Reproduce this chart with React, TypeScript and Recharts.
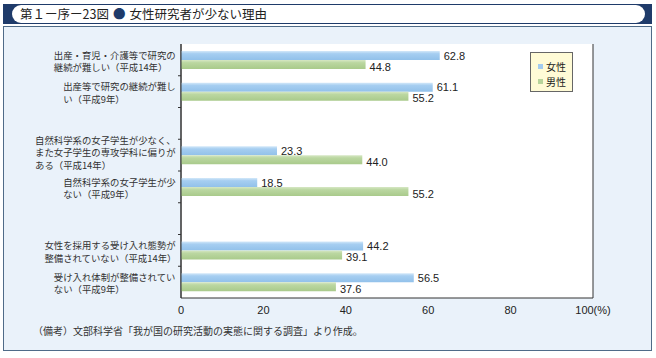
import React from "react";
import { BarChart, Bar, XAxis, YAxis, CartesianGrid, LabelList, Legend } from "recharts";

const categoryLabels: string[] = [
  "出産・育児・介護等で研究の\n継続が難しい（平成14年）",
  "出産等で研究の継続が難し\nい（平成9年）",
  "",
  "自然科学系の女子学生が少なく、\nまた女子学生の専攻学科に偏りが\nある（平成14年）",
  "自然科学系の女子学生が少\nない（平成9年）",
  "",
  "女性を採用する受け入れ態勢が\n整備されていない（平成14年）",
  "受け入れ体制が整備されてい\nない（平成9年）",
];
const femaleValues: (number | null)[] = [62.8, 61.1, null, 23.3, 18.5, null, 44.2, 56.5];
const maleValues: (number | null)[] = [44.8, 55.2, null, 44.0, 55.2, null, 39.1, 37.6];
const seriesNames = ["女性", "男性"];
const xTicks = [0, 20, 40, 60, 80, 100];
const gridTicks = [20, 40, 60, 80];
const titleText = "第１ー序ー23図";
const titleSub = "女性研究者が少ない理由";
const noteText = "（備考）文部科学省「我が国の研究活動の実態に関する調査」より作成。";

const data = categoryLabels.map((label, i) => ({
  key: `c${i}`,
  label,
  female: femaleValues[i],
  male: maleValues[i],
}));

const W = 656;
const H = 358;
const MARGIN = { top: 44, right: 63, bottom: 40, left: 6 };
const XAXIS_H = 20;
const PLOT_H = H - MARGIN.top - MARGIN.bottom - XAXIS_H;
const HALF_BAND = PLOT_H / categoryLabels.length / 2;

const JP = "'Noto Sans CJK JP', 'Noto Sans', sans-serif";
const NUM = "'Liberation Sans', Arial, sans-serif";

const BLUE = "#a2cbef";
const GREEN = "#b7d49b";

const YTick = (props: any) => {
  const { x, y, index } = props;
  const text = categoryLabels[index] || "";
  const lines = text ? text.split("\n") : [];
  const fs = 9.4;
  const lh = 12.5;
  const startX = x - (lines[0] ? lines[0].length : 0) * fs;
  const y0 = y - ((lines.length - 1) * lh) / 2 + 1 - (lines.length > 2 ? 4 : 0);
  return (
    <g>
      {index < categoryLabels.length - 1 && (
        <line x1={x + 2} x2={x + 5} y1={y + HALF_BAND} y2={y + HALF_BAND} stroke="#333" strokeWidth={1} />
      )}
      <text fontSize={fs} fontFamily={JP} fill="#333">
        {lines.map((l, i) => (
          <tspan key={i} x={startX} y={y0 + i * lh} dominantBaseline="central">
            {l}
          </tspan>
        ))}
      </text>
    </g>
  );
};

const makeLabel = (dy: number) => (p: any) => {
  const { x, y, width, height, value } = p;
  if (value === null || value === undefined) return null;
  return (
    <text
      x={x + width + 4}
      y={y + height / 2 + dy}
      fontSize={11}
      fontFamily={NUM}
      fill="#222"
      dominantBaseline="central"
    >
      {Number(value).toFixed(1)}
    </text>
  );
};

const LegendBox = () => (
  <div
    style={{
      width: 43,
      height: 40,
      boxSizing: "border-box",
      background: "#fffbd6",
      border: "1px solid #666",
      fontFamily: JP,
      fontSize: 10,
      color: "#222",
      paddingTop: 6,
      paddingLeft: 7,
    }}
  >
    {seriesNames.map((n, i) => (
      <div key={n} style={{ display: "flex", alignItems: "center", height: 15 }}>
        <span style={{ display: "inline-block", width: 5, height: 5, background: i === 0 ? BLUE : GREEN, marginRight: 3 }} />
        <span>{n}</span>
      </div>
    ))}
  </div>
);

export default function App() {
  return (
    <div style={{ position: "absolute", left: 0, top: 0, width: W, height: H, background: "#fff", overflow: "hidden" }}>
      <div style={{ position: "absolute", left: 3, top: 4, width: 649, height: 20, background: "#1f3b6a" }}>
        <div
          style={{
            position: "absolute",
            left: 9,
            top: 1,
            width: 633,
            height: 18,
            background: "#fff",
            borderRadius: 9,
            fontFamily: JP,
            fontSize: 12.5,
            color: "#222",
            lineHeight: "18px",
            paddingLeft: 8,
            boxSizing: "border-box",
            whiteSpace: "nowrap",
          }}
        >
          {titleText}
          <span style={{ color: "#1f3b6a", margin: "0 4px" }}>●</span>
          {titleSub}
        </div>
      </div>
      <div
        style={{
          position: "absolute",
          left: 3,
          top: 26,
          width: 649,
          height: 325,
          boxSizing: "border-box",
          background: "#eaf2fa",
          border: "1px solid #4f6b88",
        }}
      />
      <div
        style={{
          position: "absolute",
          left: 33,
          top: 323,
          fontFamily: JP,
          fontSize: 10,
          color: "#333",
          whiteSpace: "nowrap",
        }}
      >
        {noteText}
      </div>
      <div style={{ position: "absolute", left: 0, top: 0 }}>
        <BarChart width={W} height={H} data={data} layout="vertical" margin={MARGIN} barGap={0}>
          <defs>
            <linearGradient id="gBlue" x1="0" y1="0" x2="0" y2="1">
              <stop offset="0" stopColor="#d3e8f9" />
              <stop offset="0.3" stopColor="#a6cef1" />
              <stop offset="1" stopColor="#92c1ea" />
            </linearGradient>
            <linearGradient id="gGreen" x1="0" y1="0" x2="0" y2="1">
              <stop offset="0" stopColor="#d6e7c4" />
              <stop offset="0.3" stopColor="#bbd7a1" />
              <stop offset="1" stopColor="#a9ca8b" />
            </linearGradient>
          </defs>
          <CartesianGrid xAxisId="top" horizontal={false} stroke="#333" fill="#fff" fillOpacity={1} />
          <XAxis
            type="number"
            domain={[0, 100]}
            ticks={xTicks}
            interval={0}
            height={XAXIS_H}
            tickLine={false}
            axisLine={{ stroke: "#333" }}
            tick={{ fontSize: 11, fill: "#222", fontFamily: NUM }}
            tickFormatter={(v: number) => (v === 100 ? "100(%)" : String(v))}
          />
          <XAxis
            xAxisId="top"
            orientation="top"
            type="number"
            domain={[0, 100]}
            ticks={gridTicks}
            height={0}
            tick={false}
            tickLine={false}
            axisLine={{ stroke: "#333" }}
          />
          <YAxis
            type="category"
            dataKey="key"
            width={175}
            interval={0}
            tickSize={5}
            tickMargin={0}
            tickLine={false}
            axisLine={{ stroke: "#333" }}
            tick={<YTick />}
          />
          <YAxis
            yAxisId="right"
            orientation="right"
            type="category"
            dataKey="key"
            width={0}
            tick={false}
            tickLine={false}
            axisLine={{ stroke: "#b5bcc4" }}
          />
          <Legend
            layout="vertical"
            align="center"
            verticalAlign="middle"
            content={<LegendBox />}
            wrapperStyle={{ position: "absolute", left: 530, top: 52, width: 43, height: 40 }}
          />
          <Bar dataKey="female" name={seriesNames[0]} fill="url(#gBlue)" barSize={9} isAnimationActive={false}>
            <LabelList dataKey="female" content={makeLabel(0)} />
          </Bar>
          <Bar dataKey="male" name={seriesNames[1]} fill="url(#gGreen)" barSize={9} isAnimationActive={false}>
            <LabelList dataKey="male" content={makeLabel(2)} />
          </Bar>
        </BarChart>
      </div>
    </div>
  );
}
